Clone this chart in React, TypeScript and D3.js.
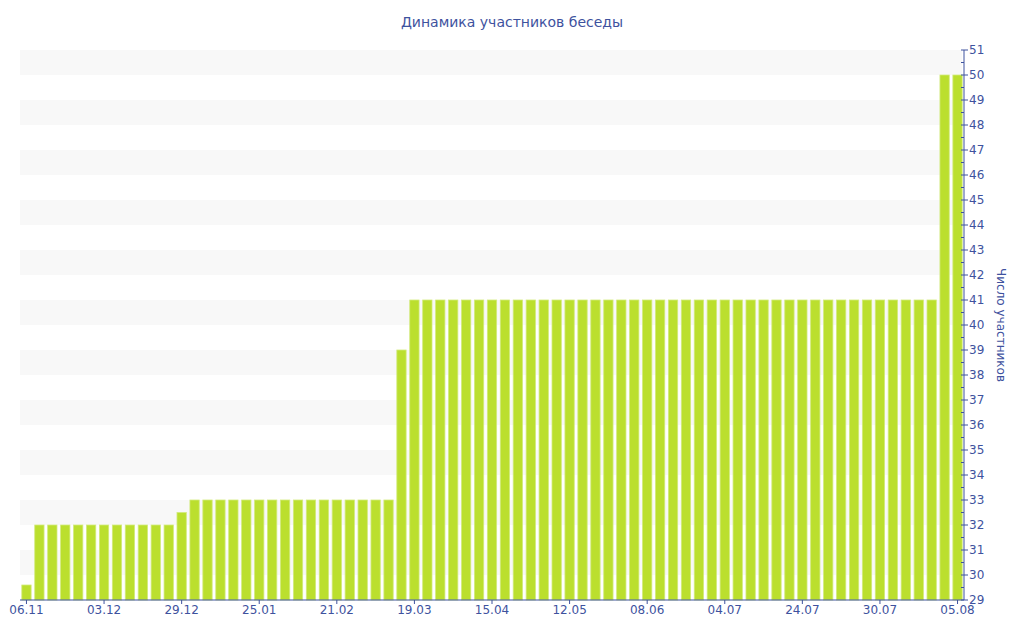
import * as d3 from 'd3';

// one bar per snapshot, labels shown on every 6th bar
const memberCounts = [
  29.6,
  32, 32, 32, 32, 32, 32, 32, 32, 32, 32, 32,
  32.5,
  33, 33, 33, 33, 33, 33, 33, 33, 33, 33, 33, 33, 33, 33, 33, 33,
  39,
  41, 41, 41, 41, 41, 41, 41, 41, 41, 41, 41, 41, 41, 41, 41, 41, 41, 41, 41, 41,
  41, 41, 41, 41, 41, 41, 41, 41, 41, 41, 41, 41, 41, 41, 41, 41, 41, 41, 41, 41, 41,
  50, 50,
];
const tickLabels = [
  '06.11', '03.12', '29.12', '25.01', '21.02', '19.03', '15.04',
  '12.05', '08.06', '04.07', '24.07', '30.07', '05.08',
];
const labelEvery = 6;
const yMin = 29;
const yMax = 51;

const width = 1024;
const height = 640;
const margin = { top: 50, right: 60, bottom: 40, left: 20 };
const textColor = '#3e529e';
const font = 'Verdana, "DejaVu Sans", sans-serif';

export default function App() {
  const innerW = width - margin.left - margin.right;
  const innerH = height - margin.top - margin.bottom;

  const x = d3
    .scaleBand<number>()
    .domain(d3.range(memberCounts.length))
    .range([margin.left, margin.left + innerW])
    .paddingInner(0.28)
    .paddingOuter(0.14);

  const y = d3
    .scaleLinear()
    .domain([yMin, yMax])
    .range([margin.top + innerH, margin.top]);

  const majorTicks = d3.range(yMin, yMax + 1);
  const minorTicks = d3.range(yMin + 0.5, yMax, 1);
  const axisX = margin.left + innerW;
  const baseY = y(yMin);

  // alternating stripes: [30,31], [32,33], ... [50,51]
  const stripes = d3.range(yMin + 1, yMax, 2);

  return (
    <svg
      width={width}
      height={height}
      style={{ position: 'absolute', left: 0, top: 0, fontFamily: font }}
    >
      <rect width={width} height={height} fill="#fff" />
      {stripes.map((s) => (
        <rect
          key={s}
          x={margin.left}
          y={y(s + 1)}
          width={innerW - 2}
          height={y(s) - y(s + 1)}
          fill="#f8f8f8"
        />
      ))}

      {memberCounts.map((v, i) => (
        <rect
          key={i}
          x={x(i)}
          y={y(v)}
          width={x.bandwidth()}
          height={baseY - y(v)}
          fill="#bbdf2e"
          stroke="#d2ea7c"
          strokeWidth={0.8}
        />
      ))}

      <line x1={margin.left} x2={axisX} y1={baseY} y2={baseY} stroke={textColor} />
      {tickLabels.map((lab, k) => {
        const cx = (x(k * labelEvery) ?? 0) + x.bandwidth() / 2;
        return (
          <g key={lab}>
            <line x1={cx} x2={cx} y1={baseY} y2={baseY + 4} stroke={textColor} />
            <text
              x={cx}
              y={baseY + 14}
              textAnchor="middle"
              fontSize={12}
              fill={textColor}
            >
              {lab}
            </text>
          </g>
        );
      })}

      <line x1={axisX} x2={axisX} y1={margin.top} y2={baseY} stroke={textColor} />
      {minorTicks.map((t) => (
        <line key={t} x1={axisX - 3} x2={axisX} y1={y(t)} y2={y(t)} stroke={textColor} />
      ))}
      {majorTicks.map((t) => (
        <g key={t}>
          <line x1={axisX - 3} x2={axisX + 4} y1={y(t)} y2={y(t)} stroke={textColor} />
          <text
            x={axisX + 5}
            y={y(t)}
            dy="0.35em"
            fontSize={12}
            fill={textColor}
          >
            {t}
          </text>
        </g>
      ))}

      <text
        transform={`translate(${axisX + 33},${margin.top + innerH / 2}) rotate(90)`}
        textAnchor="middle"
        fontSize={12}
        fill={textColor}
      >
        Число участников
      </text>

      <text
        x={width / 2}
        y={27}
        textAnchor="middle"
        fontSize={14}
        fill={textColor}
      >
        Динамика участников беседы
      </text>
    </svg>
  );
}
